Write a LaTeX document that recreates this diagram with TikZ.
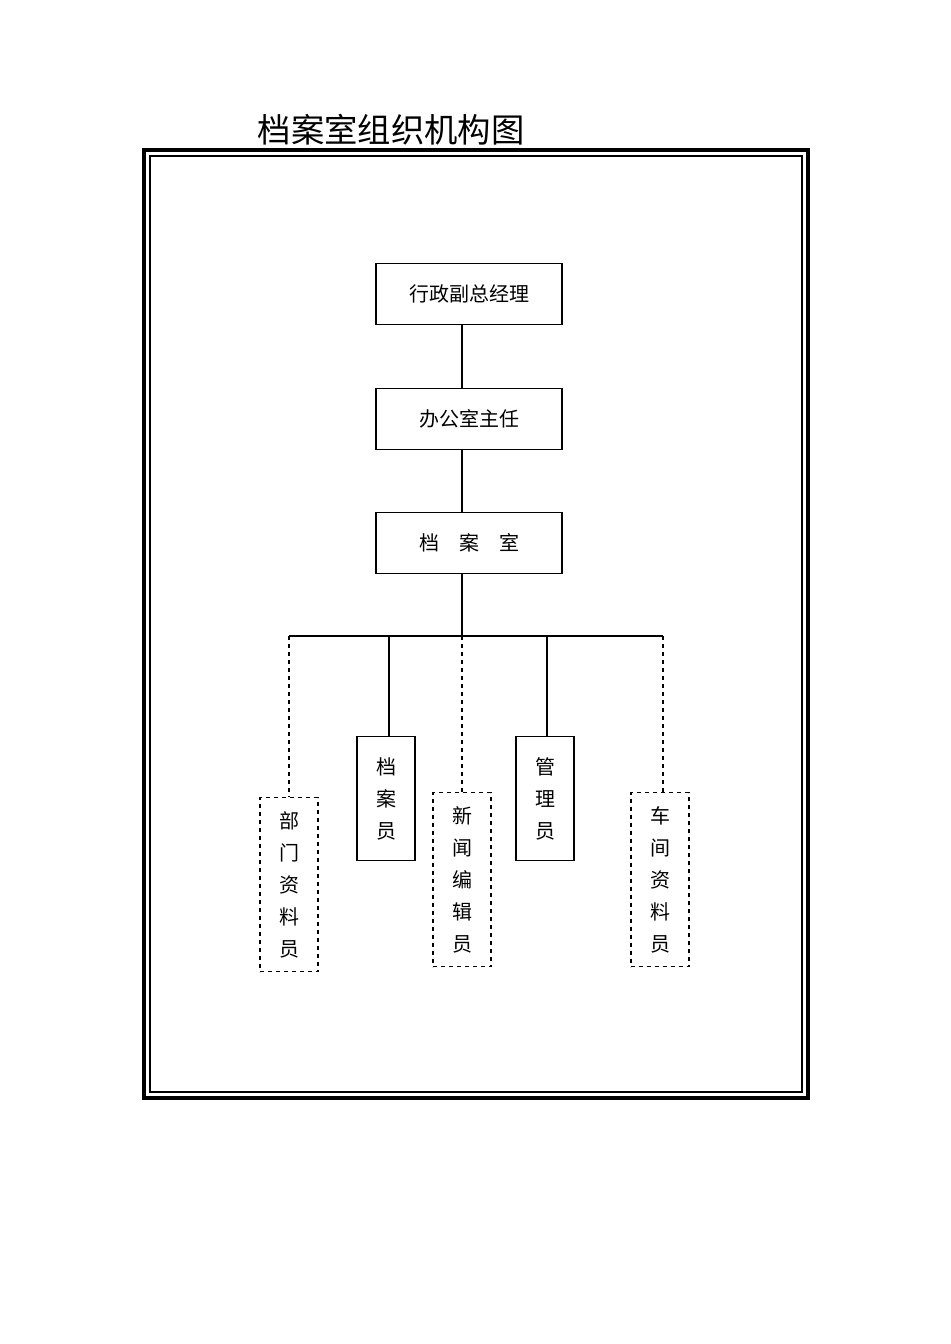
\documentclass[tikz,border=0pt]{standalone}
\usepackage{fontspec}
\newfontfamily\cjk{Noto Sans CJK SC}
\begin{document}
\begin{tikzpicture}[x=0.75pt,y=-0.75pt,
  solidbox/.style={draw,line width=1pt,minimum width=186*0.75pt,minimum height=61*0.75pt,font=\cjk\fontsize{15}{18}\selectfont},
  vsolid/.style={draw,line width=0.8pt,minimum width=58*0.75pt,minimum height=124*0.75pt,anchor=north,align=center,inner sep=0pt,font=\cjk\fontsize{15}{24}\selectfont},
  vdash/.style={draw,dashed,line width=0.8pt,minimum width=58*0.75pt,minimum height=174*0.75pt,anchor=north,align=center,inner sep=0pt,font=\cjk\fontsize{15}{24}\selectfont},
  link/.style={line width=0.8pt},
  dlink/.style={line width=0.8pt,dashed}]
\useasboundingbox (0,0) rectangle (950,1344);
\node[font=\cjk\fontsize{25}{28}\selectfont,anchor=west] (title) at (253,130) {档案室组织机构图};
\draw[line width=3pt] (144,150) rectangle (808,1098);
\draw[line width=1pt] (150,156) rectangle (802,1092);
\node[solidbox] (a) at (469,294) {行政副总经理};
\node[solidbox] (b) at (469,419) {办公室主任};
\node[solidbox] (c) at (469,543) {档\quad 案\quad 室};
\coordinate (bus) at (462,636);
\coordinate (bl) at (289,636);
\coordinate (br) at (663,636);
\coordinate (b2) at (389,636);
\coordinate (b4) at (547,636);
\node[vdash] (d1) at (289,797) {部\\门\\资\\料\\员};
\node[vsolid,anchor=north] (d2) at (386,736) {档\\案\\员};
\node[vdash] (d3) at (462,792) {新\\闻\\编\\辑\\员};
\node[vsolid] (d4) at (545,736) {管\\理\\员};
\node[vdash] (d5) at (660,792) {车\\间\\资\\料\\员};
\draw[link] (a.south -| bus) -- (b.north -| bus);
\draw[link] (b.south -| bus) -- (c.north -| bus);
\draw[link] (c.south -| bus) -- (bus);
\draw[link] (bl) -- (br);
\draw[dlink] (bl) -- (d1.north -| bl);
\draw[link] (b2) -- (d2.north -| b2);
\draw[dlink] (bus) -- (d3.north -| bus);
\draw[link] (b4) -- (d4.north -| b4);
\draw[dlink] (br) -- (d5.north -| br);
\end{tikzpicture}
\end{document}
